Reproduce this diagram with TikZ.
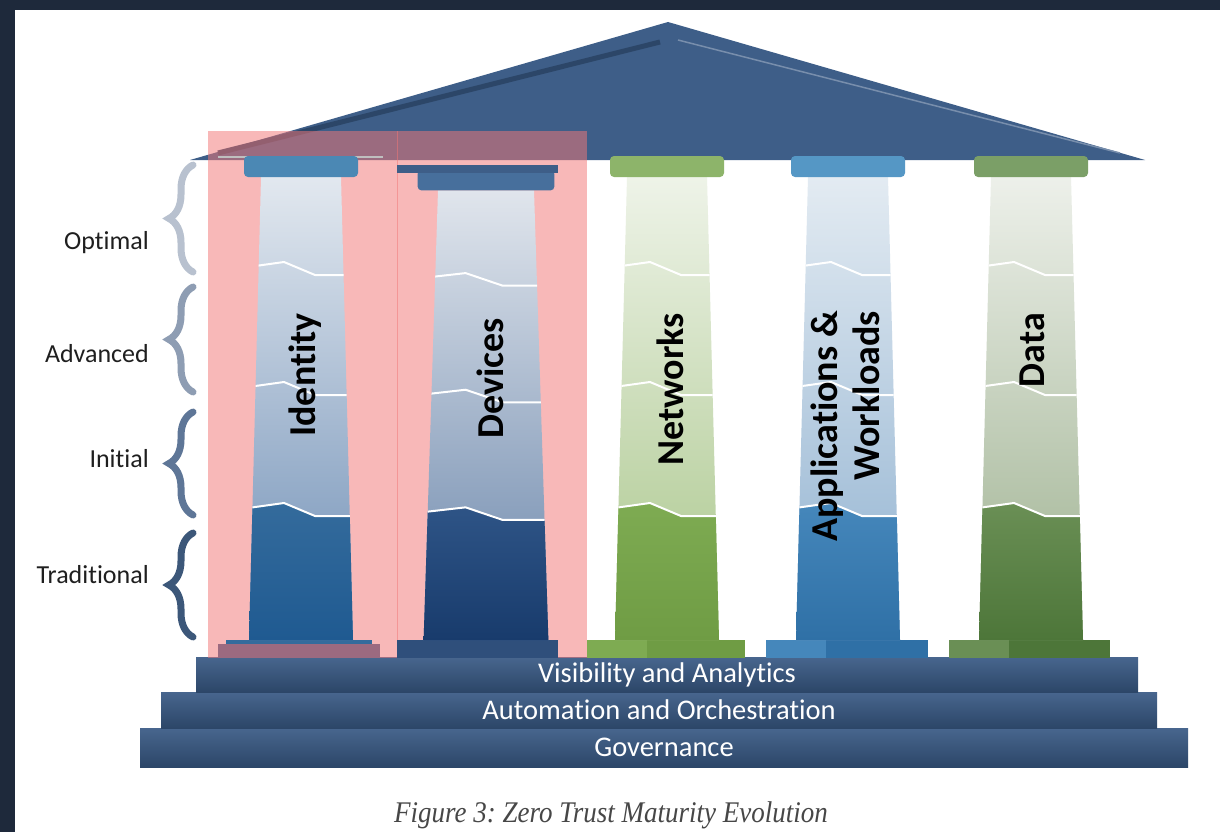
\documentclass[tikz,border=0pt]{standalone}
\usepackage{fontspec}
\setmainfont{Carlito}[Ligatures=NoCommon]
\newfontfamily\capfont{Liberation Serif}
\usetikzlibrary{decorations.pathreplacing}

\definecolor{frame}{HTML}{1E293B}
\definecolor{roof}{HTML}{3E5E88}
\definecolor{roofdark}{HTML}{2C4668}
\definecolor{hl}{HTML}{F27777}
% pillar colours: cap, top, mid, low, deep
\definecolor{ident-cap}{HTML}{4B88B4}
\definecolor{ident-top}{HTML}{E2E8EF}
\definecolor{ident-mid}{HTML}{6F8FB6}
\definecolor{ident-low}{HTML}{346B9C}
\definecolor{ident-deep}{HTML}{1F5A91}
\definecolor{ident-base}{HTML}{9C6A80}
\definecolor{dev-cap}{HTML}{476F9C}
\definecolor{dev-top}{HTML}{E0E5EC}
\definecolor{dev-mid}{HTML}{6A86AB}
\definecolor{dev-low}{HTML}{2E5486}
\definecolor{dev-deep}{HTML}{183B6C}
\definecolor{net-cap}{HTML}{8DB46A}
\definecolor{net-top}{HTML}{EEF3E8}
\definecolor{net-mid}{HTML}{A9C68A}
\definecolor{net-low}{HTML}{7EAB52}
\definecolor{net-deep}{HTML}{6F9C44}
\definecolor{app-cap}{HTML}{5597C5}
\definecolor{app-top}{HTML}{E3EBF2}
\definecolor{app-mid}{HTML}{8FB1D0}
\definecolor{app-low}{HTML}{4587BB}
\definecolor{app-deep}{HTML}{2F70A6}
\definecolor{data-cap}{HTML}{7B9F67}
\definecolor{data-top}{HTML}{EDF0EA}
\definecolor{data-mid}{HTML}{9CB08E}
\definecolor{data-low}{HTML}{6A8F55}
\definecolor{data-deep}{HTML}{4D7639}

\tikzset{
	level line/.style={white, line width=2, line join=round},
	lvl/.style={anchor=east, inner sep=0, text=black!88, font=\fontsize{26}{30}\selectfont},
	curly/.style={decorate, decoration={brace, amplitude=24}, line width=7, line cap=round},
	tag/.style={rotate=90, anchor=east, inner sep=0, align=right, font=\bfseries\fontsize{38}{42}\selectfont},
	stepbar/.style={top color=roof!95!white, bottom color=roofdark, text=white, inner sep=0,
		font=\fontsize{28.5}{30}\selectfont},
	caption/.style={text=black!72, xscale=.9, font=\capfont\itshape\fontsize{30}{32}\selectfont}
}
\tikzset{
	pillar/.pic={
		\path[top color=#1-top, bottom color=#1-mid] (-40,-481) -- (40,-481) -- (52,-18) -- (-52,-18) -- cycle;
		\begin{scope}
			\clip (-40,-481) -- (40,-481) -- (52,-18) -- (-52,-18) -- cycle;
			\path[top color=#1-low, bottom color=#1-deep] (-60,-149) -- (-17,-155) -- (14,-142) -- (60,-142) -- (60,-18) -- (-60,-18) -- cycle;
			\foreach \lv in {-396,-276,-155}
				\draw[level line] (-60,\lv+6) -- (-17,\lv) -- (14,\lv+13) -- (60,\lv+13);
		\end{scope}
		\fill[#1-cap, rounded corners=4] (-57,-502) rectangle (57,-481);
	}
}

\begin{document}
\begin{tikzpicture}[x=1pt,y=-1pt]
\useasboundingbox (0,0) rectangle (1220,832);
\fill[white] (0,0) rectangle (1220,832);
\fill[frame] (0,0) rectangle (15,832);
\fill[frame] (0,0) rectangle (1220,10);

%platform
\node[stepbar, minimum width=1048, minimum height=39] (gov) at (664,747.5) {Governance};
\node[stepbar, minimum width=996, minimum height=36] (auto) at (659,710) {Automation and Orchestration};
\node[stepbar, minimum width=942, minimum height=35] (vis) at (667,674.5) {Visibility and Analytics};

%roof
\fill[roof] (190,160) -- (668,22) -- (1145,160) -- cycle;
\draw[roofdark, line width=5] (218,153) -- (660,42);
\draw[roof!70!white, line width=1.5] (678,40) -- (1120,153);

%highlight
\fill[hl, opacity=.52] (208,131) rectangle (398,658);
\fill[hl, opacity=.52] (397,131) rectangle (587,658);
\draw[black!25, line width=2] (218,157) -- (383,157);

%bases
\fill[ident-base] (218,644) rectangle (380,658);
\fill[ident-low] (226,640) rectangle (372,644);
\fill[dev-deep!90!white] (397,640) rectangle (558,658);
\foreach \xl/\xr/\ca/\cb in {587/745/net-low/net-deep, 766/928/app-low/app-deep, 949/1110/data-low/data-deep}{
	\fill[\cb] (\xl,640) rectangle (\xr,658);
	\fill[\ca] (\xl,640) rectangle (\xl+60,658);
}

%pillars
\path (301,658) pic {pillar=ident};
\path (486,658) pic[xscale=1.2, yscale=0.972] {pillar=dev};
\path (667,658) pic {pillar=net};
\path (848,658) pic {pillar=app};
\path (1031,658) pic {pillar=data};
\fill[roof] (397,165) rectangle (558,173);

\node[tag] (identity) at (305,313) {Identity};
\node[tag] (devices) at (490,318) {Devices};
\node[tag] (networks) at (670,313) {Networks};
\node[tag] (apps) at (845,311) {Applications \&\\Workloads};
\node[tag] (data) at (1032,313) {Data};

%maturity levels
\draw[curly, color={rgb,255:red,184;green,193;blue,207}] (193,272) -- (193,165);
\draw[curly, color={rgb,255:red,142;green,157;blue,179}] (193,392) -- (193,287);
\draw[curly, color={rgb,255:red,94;green,118;blue,151}] (193,515) -- (193,412);
\draw[curly, color={rgb,255:red,60;green,87;blue,121}] (193,637) -- (193,533);
\node[lvl] (optimal) at (149,243) {Optimal};
\node[lvl] (advanced) at (149,354) {Advanced};
\node[lvl] (initial) at (149,459) {Initial};
\node[lvl] (traditional) at (149,575) {Traditional};

\node[caption] (cap) at (611,815) {Figure 3:\ Zero Trust Maturity Evolution};
\end{tikzpicture}
\end{document}
